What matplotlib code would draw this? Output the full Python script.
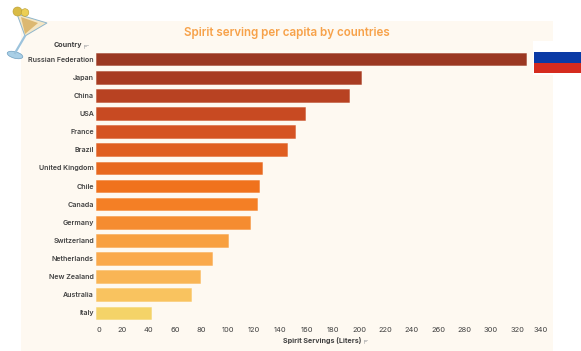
#!/usr/bin/env python
"""Horizontal bar chart of spirit servings per capita by country."""

import matplotlib
matplotlib.use("Agg")
import matplotlib.pyplot as plt
from matplotlib.patches import Circle, Ellipse, Polygon, Rectangle
from matplotlib.transforms import ScaledTranslation

WIDTH, HEIGHT = 581, 351

countries = ["Russian Federation", "Japan", "China", "USA", "France", "Brazil",
             "United Kingdom", "Chile", "Canada", "Germany", "Switzerland",
             "Netherlands", "New Zealand", "Australia", "Italy"]
servings = [326.5, 201.5, 192.5, 158.5, 151, 145, 126, 124, 122, 117, 100, 88, 79, 72, 42]
bar_colors = ["#9b3822", "#a83c22", "#b84222", "#c84a22", "#d55323", "#e05e20",
              "#e8681e", "#f0721d", "#f47f25", "#f58c30", "#f8a040", "#faa94b",
              "#f9b555", "#f9c35f", "#f4d368"]
x_ticks = list(range(0, 341, 20))

PANEL = "#fef9f1"
TEXT = "#404040"
FONT = "Inter"


def pixel_axes(fig):
    """Full figure overlay addressed in image pixels"""
    ax = fig.add_axes([0, 0, 1, 1], zorder=5)
    ax.set_xlim(0, WIDTH)
    ax.set_ylim(HEIGHT, 0)
    ax.axis("off")
    return ax


def draw_sort_icon(ax, x, y):
    """Tiny grey sort marker next to a field label"""
    ax.plot([x, x + 3.5], [y - 1.5, y - 1.5], color="#b5b5b5", lw=0.5)
    ax.plot([x, x], [y - 1.5, y + 1.5], color="#b5b5b5", lw=0.5)
    ax.plot([x, x + 2], [y, y], color="#b5b5b5", lw=0.5)


def draw_glass(ax):
    """Small cocktail glass in the top left corner"""
    ax.add_patch(Polygon([(17, 14), (47, 23), (25, 36)], fc="#f4e6c4", ec="#8fb6cc", lw=0.7))
    ax.add_patch(Polygon([(21, 17), (38, 23), (25, 34)], fc="#dcb871", ec="none"))
    ax.plot([25, 15], [36, 53], color="#9cc3dc", lw=1.6)
    ax.add_patch(Ellipse((15, 55), 16, 6.5, angle=15, fc="#a9cfe6", ec="#6f9fc0", lw=0.5))
    ax.add_patch(Circle((17.5, 11.5), 4.5, fc="#d9bb45", ec="#b89c30", lw=0.4))
    ax.add_patch(Circle((25, 12.5), 3.8, fc="#eccf55", ec="#b89c30", lw=0.4))


def draw_flag(ax):
    """Russian flag to the right of the top bar"""
    ax.add_patch(Rectangle((533, 41), 48, 34, fc="white", ec="none"))
    ax.add_patch(Rectangle((534, 52), 47, 11, fc="#0a3aa5", ec="none"))
    ax.add_patch(Rectangle((534, 63), 47, 10, fc="#d52b1e", ec="none"))


def main():
    fig = plt.figure(figsize=(WIDTH / 100, HEIGHT / 100), dpi=100, facecolor="white")
    fig.patches.append(Rectangle((21 / WIDTH, 0), (553 - 21) / WIDTH, (351 - 21) / HEIGHT,
                                 transform=fig.transFigure, fc=PANEL, ec="none", zorder=-1))

    # Axes span: 0 sits at x=96, 340 at x=543.5
    left, right = 96, 543.5
    top, bottom = 50, 322
    ax = fig.add_axes([left / WIDTH, 1 - bottom / HEIGHT,
                       (right - left) / WIDTH, (bottom - top) / HEIGHT])
    ax.patch.set_alpha(0)
    positions = list(range(len(countries)))
    bars = ax.barh(positions, servings, height=0.7, color=bar_colors, linewidth=0.6)
    for bar, color in zip(bars, bar_colors):
        bar.set_edgecolor(matplotlib.colors.to_rgba(color, 0.5))
    ax.set_xlim(0, 340)
    ax.set_ylim(len(countries) - 0.5, -0.5)

    ax.set_yticks(positions, countries, fontsize=5.1, fontweight="semibold", color=TEXT, family=FONT)
    ax.set_xticks(x_ticks, [str(t) for t in x_ticks], fontsize=5.4, color=TEXT, family=FONT)
    ax.tick_params(axis="y", length=0, pad=1.5)
    ax.tick_params(axis="x", length=0, pad=3.6)
    for spine in ax.spines.values():
        spine.set_visible(False)

    # End labels are pulled inward so they stay within the axis
    labels = ax.get_xticklabels()
    labels[0].set_transform(labels[0].get_transform() + ScaledTranslation(3 / 100, 0, fig.dpi_scale_trans))
    labels[-1].set_transform(labels[-1].get_transform() + ScaledTranslation(-2.5 / 100, 0, fig.dpi_scale_trans))

    overlay = pixel_axes(fig)
    overlay.text(287, 33, "Spirit serving per capita by countries", ha="center", va="center",
                 fontsize=8.35, color="#f7a24a", fontweight="semibold", family=FONT)
    overlay.text(82, 45.5, "Country", ha="right", va="center", fontsize=5.1,
                 fontweight="bold", color=TEXT, family=FONT)
    draw_sort_icon(overlay, 84, 46)
    overlay.text(322, 341, "Spirit Servings (Liters)", ha="center", va="center", fontsize=5.1,
                 fontweight="bold", color=TEXT, family=FONT)
    draw_sort_icon(overlay, 363.5, 341)
    draw_glass(overlay)
    draw_flag(overlay)

    fig.savefig("out.png", dpi=100)


if __name__ == "__main__":
    main()
